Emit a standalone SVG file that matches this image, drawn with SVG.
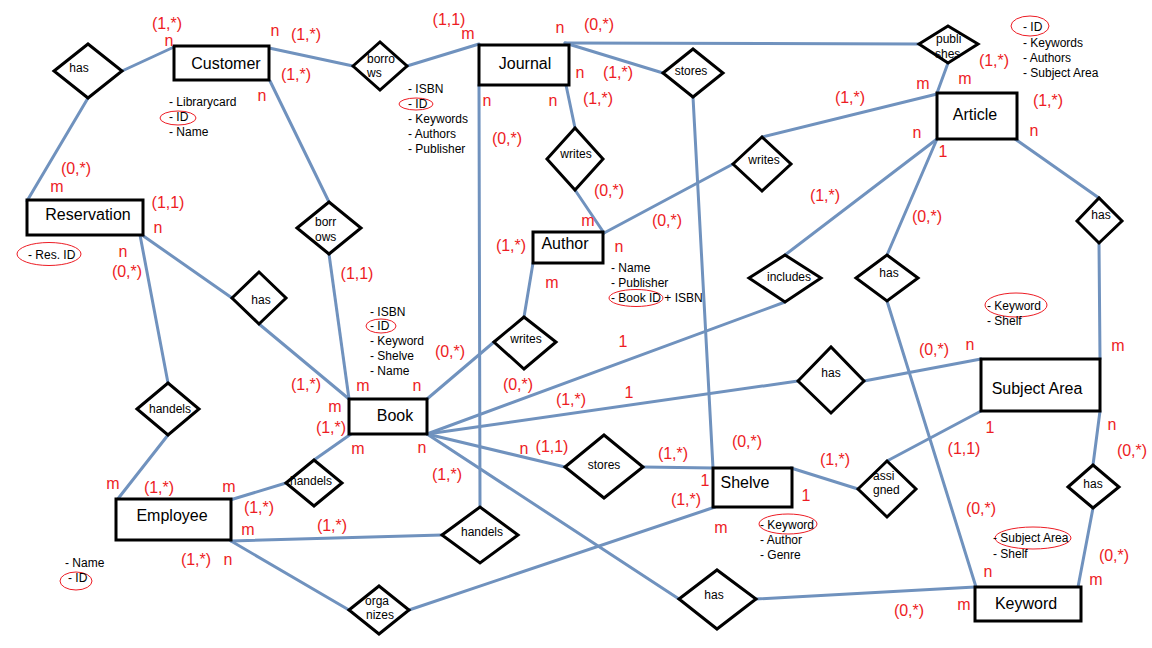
<svg xmlns="http://www.w3.org/2000/svg" width="1152" height="648" viewBox="0 0 1152 648">
<style>
  .bg { fill: #ffffff; }
  .conn line { stroke: #7092be; stroke-width: 3; stroke-linecap: round; fill: none; }
  .ent rect { fill: #ffffff; stroke: #000000; stroke-width: 3; }
  .rel polygon { fill: #ffffff; stroke: #000000; stroke-width: 3; stroke-linejoin: miter; }
  .et { font-family: "Liberation Sans", Arial, sans-serif; font-size: 16px; fill: #000000; text-anchor: middle; }
  .rt { font-family: "Liberation Sans", Arial, sans-serif; font-size: 12px; fill: #000000; text-anchor: middle; }
  .rs { font-family: "Liberation Sans", Arial, sans-serif; font-size: 12px; fill: #000000; }
  .at { font-family: "Liberation Sans", Arial, sans-serif; font-size: 12px; fill: #000000; }
  .key { fill: none; stroke: #ed1c24; stroke-width: 1; }
  .card { font-family: "Liberation Sans", Arial, sans-serif; font-size: 16px; fill: #ed1c24; text-anchor: middle; }
</style>
<rect class="bg" x="0" y="0" width="1152" height="648"/>

<!-- relationship lines -->
<g id="connectors" class="conn">
  <line x1="174" y1="47" x2="122" y2="71"/>
  <line x1="88" y1="98" x2="27" y2="201"/>
  <line x1="269" y1="48" x2="353" y2="66"/>
  <line x1="407" y1="66" x2="479" y2="44"/>
  <line x1="270" y1="81" x2="329" y2="202"/>
  <line x1="329" y1="254" x2="349" y2="399"/>
  <line x1="142" y1="235" x2="232" y2="298"/>
  <line x1="259" y1="324" x2="349" y2="399"/>
  <line x1="140" y1="235" x2="168" y2="383"/>
  <line x1="168" y1="435" x2="117" y2="500"/>
  <line x1="230" y1="500" x2="286" y2="483"/>
  <line x1="314" y1="460" x2="351" y2="434"/>
  <line x1="231" y1="541" x2="442" y2="535"/>
  <line x1="479" y1="85" x2="480" y2="507"/>
  <line x1="231" y1="541" x2="349" y2="610"/>
  <line x1="409" y1="610" x2="715" y2="507"/>
  <line x1="565" y1="43" x2="919" y2="44"/>
  <line x1="565" y1="43" x2="663" y2="73"/>
  <line x1="693" y1="97" x2="713" y2="468"/>
  <line x1="566" y1="85" x2="575" y2="128"/>
  <line x1="575" y1="190" x2="604" y2="233"/>
  <line x1="604" y1="233" x2="733" y2="164"/>
  <line x1="762" y1="137" x2="937" y2="94"/>
  <line x1="948" y1="63" x2="937" y2="93"/>
  <line x1="937" y1="139" x2="785" y2="255"/>
  <line x1="937" y1="139" x2="887" y2="255"/>
  <line x1="1015" y1="139" x2="1099" y2="198"/>
  <line x1="1099" y1="243" x2="1100" y2="359"/>
  <line x1="1100" y1="411" x2="1093" y2="465"/>
  <line x1="1093" y1="508" x2="1078" y2="587"/>
  <line x1="981" y1="411" x2="887" y2="461"/>
  <line x1="791" y1="468" x2="858" y2="489"/>
  <line x1="427" y1="434" x2="785" y2="302"/>
  <line x1="427" y1="434" x2="798" y2="381"/>
  <line x1="427" y1="434" x2="565" y2="467"/>
  <line x1="427" y1="434" x2="679" y2="599"/>
  <line x1="427" y1="399" x2="494" y2="342"/>
  <line x1="524" y1="317" x2="533" y2="263"/>
  <line x1="643" y1="467" x2="713" y2="468"/>
  <line x1="756" y1="599" x2="975" y2="587"/>
  <line x1="887" y1="301" x2="976" y2="587"/>
  <line x1="864" y1="381" x2="981" y2="359"/>
</g>

<!-- entities -->
<g id="customer" class="ent">
  <rect x="174" y="46" width="95" height="34"/>
  <text class="et" x="226" y="69">Customer</text>
</g>
<g id="journal" class="ent">
  <rect x="479" y="45" width="90" height="40"/>
  <text class="et" x="525" y="69">Journal</text>
</g>
<g id="article" class="ent">
  <rect x="937" y="93" width="80" height="46"/>
  <text class="et" x="975" y="120">Article</text>
</g>
<g id="reservation" class="ent">
  <rect x="27" y="200" width="116" height="35"/>
  <text class="et" x="88" y="220">Reservation</text>
</g>
<g id="author" class="ent">
  <rect x="533" y="232" width="70" height="31"/>
  <text class="et" x="565" y="249">Author</text>
</g>
<g id="book" class="ent">
  <rect x="349" y="399" width="78" height="35"/>
  <text class="et" x="395" y="421">Book</text>
</g>
<g id="subject-area" class="ent">
  <rect x="981" y="359" width="119" height="52"/>
  <text class="et" x="1037" y="394">Subject Area</text>
</g>
<g id="shelve" class="ent">
  <rect x="713" y="468" width="79" height="39"/>
  <text class="et" x="745" y="488">Shelve</text>
</g>
<g id="employee" class="ent">
  <rect x="116" y="499" width="115" height="41"/>
  <text class="et" x="172" y="521">Employee</text>
</g>
<g id="keyword" class="ent">
  <rect x="975" y="587" width="106" height="34"/>
  <text class="et" x="1026" y="609">Keyword</text>
</g>

<!-- relationships -->
<g id="rel-customer-has" class="rel">
  <polygon points="54,71 88,44 122,71 88,98"/>
  <text class="rt" x="79" y="72">has</text>
</g>
<g id="rel-borrows-journal" class="rel">
  <polygon points="353,66 380,42 407,66 380,90"/>
  <text class="rs" x="367" y="63">borro</text>
  <text class="rs" x="367" y="77">ws</text>
</g>
<g id="rel-borrows-book" class="rel">
  <polygon points="297,228 329,202 361,228 329,254"/>
  <text class="rs" x="315" y="226">borr</text>
  <text class="rs" x="315" y="241">ows</text>
</g>
<g id="rel-reservation-has" class="rel">
  <polygon points="232,298 259,272 286,298 259,324"/>
  <text class="rt" x="261" y="304">has</text>
</g>
<g id="rel-handels-reservation" class="rel">
  <polygon points="137,409 168,383 199,409 168,435"/>
  <text class="rt" x="170" y="413">handels</text>
</g>
<g id="rel-handels-book" class="rel">
  <polygon points="286,483 314,460 342,483 314,506"/>
  <text class="rt" x="311" y="485">handels</text>
</g>
<g id="rel-handels-journal" class="rel">
  <polygon points="442,535 480,507 518,535 480,563"/>
  <text class="rt" x="482" y="536">handels</text>
</g>
<g id="rel-organizes" class="rel">
  <polygon points="349,610 379,586 409,610 379,634"/>
  <text class="rs" x="365" y="605">orga</text>
  <text class="rs" x="366" y="619">nizes</text>
</g>
<g id="rel-writes-journal" class="rel">
  <polygon points="547,159 575,128 603,159 575,190"/>
  <text class="rt" x="576" y="158">writes</text>
</g>
<g id="rel-stores-journal" class="rel">
  <polygon points="663,73 693,49 723,73 693,97"/>
  <text class="rt" x="691" y="75">stores</text>
</g>
<g id="rel-publishes" class="rel">
  <polygon points="919,44 948,26 978,44 948,63"/>
  <text class="rs" x="936" y="43">publi</text>
  <text class="rs" x="935" y="58">shes</text>
</g>
<g id="rel-writes-article" class="rel">
  <polygon points="733,164 762,137 791,164 762,191"/>
  <text class="rt" x="764" y="164">writes</text>
</g>
<g id="rel-includes" class="rel">
  <polygon points="749,278 785,255 821,278 785,302"/>
  <text class="rt" x="789" y="281">includes</text>
</g>
<g id="rel-article-has-keyword" class="rel">
  <polygon points="856,278 887,255 918,278 887,301"/>
  <text class="rt" x="889" y="277">has</text>
</g>
<g id="rel-article-has-subject" class="rel">
  <polygon points="1077,221 1099,198 1122,221 1099,243"/>
  <text class="rt" x="1101" y="219">has</text>
</g>
<g id="rel-book-has-subject" class="rel">
  <polygon points="798,381 831,347 864,381 831,413"/>
  <text class="rt" x="831" y="377">has</text>
</g>
<g id="rel-writes-book" class="rel">
  <polygon points="494,342 524,317 556,342 524,369"/>
  <text class="rt" x="526" y="343">writes</text>
</g>
<g id="rel-stores-book" class="rel">
  <polygon points="565,467 604,435 643,467 604,498"/>
  <text class="rt" x="604" y="469">stores</text>
</g>
<g id="rel-assigned" class="rel">
  <polygon points="858,489 887,461 916,489 887,517"/>
  <text class="rs" x="873" y="480">assi</text>
  <text class="rs" x="873" y="494">gned</text>
</g>
<g id="rel-book-has-keyword" class="rel">
  <polygon points="679,599 717,570 756,599 717,629"/>
  <text class="rt" x="714" y="599">has</text>
</g>
<g id="rel-subject-has-keyword" class="rel">
  <polygon points="1068,487 1093,465 1119,487 1093,508"/>
  <text class="rt" x="1093" y="488">has</text>
</g>

<!-- attribute lists -->
<g id="attr-customer">
  <ellipse class="key" cx="178" cy="118" rx="18" ry="7"/>
  <text class="at" x="169" y="106">- Librarycard</text>
  <text class="at" x="169" y="121">- ID</text>
  <text class="at" x="169" y="136">- Name</text>
</g>
<g id="attr-journal">
  <ellipse class="key" cx="416" cy="104" rx="17" ry="6"/>
  <text class="at" x="408" y="93">- ISBN</text>
  <text class="at" x="408" y="108">- ID</text>
  <text class="at" x="408" y="123">- Keywords</text>
  <text class="at" x="408" y="138">- Authors</text>
  <text class="at" x="408" y="153">- Publisher</text>
</g>
<g id="attr-article">
  <ellipse class="key" cx="1030" cy="26" rx="19" ry="10"/>
  <text class="at" x="1023" y="31">- ID</text>
  <text class="at" x="1023" y="47">- Keywords</text>
  <text class="at" x="1023" y="62">- Authors</text>
  <text class="at" x="1023" y="77">- Subject Area</text>
</g>
<g id="attr-reservation">
  <ellipse class="key" cx="49" cy="254" rx="32" ry="11.5"/>
  <text class="at" x="28" y="259">- Res. ID</text>
</g>
<g id="attr-author">
  <ellipse class="key" cx="636" cy="298" rx="27" ry="8.5"/>
  <text class="at" x="611" y="272">- Name</text>
  <text class="at" x="611" y="287">- Publisher</text>
  <text class="at" x="611" y="302">- Book ID + ISBN</text>
</g>
<g id="attr-book">
  <ellipse class="key" cx="381" cy="326" rx="15" ry="7"/>
  <text class="at" x="370" y="316">- ISBN</text>
  <text class="at" x="370" y="330">- ID</text>
  <text class="at" x="370" y="345">- Keyword</text>
  <text class="at" x="370" y="360">- Shelve</text>
  <text class="at" x="370" y="375">- Name</text>
</g>
<g id="attr-subject-area">
  <ellipse class="key" cx="1016" cy="305" rx="31" ry="12"/>
  <text class="at" x="987" y="310">- Keyword</text>
  <text class="at" x="987" y="325">- Shelf</text>
</g>
<g id="attr-employee">
  <ellipse class="key" cx="76" cy="581" rx="16" ry="9"/>
  <text class="at" x="65" y="567">- Name</text>
  <text class="at" x="68" y="582">- ID</text>
</g>
<g id="attr-shelve">
  <ellipse class="key" cx="788" cy="524" rx="29" ry="10"/>
  <text class="at" x="760" y="529">- Keyword</text>
  <text class="at" x="760" y="544">- Author</text>
  <text class="at" x="760" y="559">- Genre</text>
</g>
<g id="attr-keyword">
  <ellipse class="key" cx="1033" cy="538" rx="38" ry="11"/>
  <text class="at" x="993" y="542">- Subject Area</text>
  <text class="at" x="993" y="558">- Shelf</text>
</g>

<!-- cardinalities -->
<g id="cardinalities" class="card">
  <text x="167" y="29">(1,*)</text>
  <text x="169" y="46">n</text>
  <text x="275" y="36">n</text>
  <text x="306" y="40">(1,*)</text>
  <text x="296" y="80">(1,*)</text>
  <text x="262" y="101">n</text>
  <text x="76" y="174">(0,*)</text>
  <text x="57" y="192">m</text>
  <text x="168" y="208">(1,1)</text>

  <text x="449" y="25">(1,1)</text>
  <text x="468" y="39">m</text>
  <text x="560" y="33">n</text>
  <text x="599" y="30">(0,*)</text>
  <text x="580" y="78">n</text>
  <text x="618" y="78">(1,*)</text>
  <text x="487" y="106">n</text>
  <text x="553" y="106">n</text>
  <text x="598" y="104">(1,*)</text>
  <text x="507" y="144">(0,*)</text>
  <text x="609" y="196">(0,*)</text>

  <text x="994" y="66">(1,*)</text>
  <text x="923" y="89">m</text>
  <text x="965" y="84">m</text>
  <text x="850" y="103">(1,*)</text>
  <text x="1048" y="106">(1,*)</text>
  <text x="917" y="138">n</text>
  <text x="1034" y="136">n</text>
  <text x="943" y="157">1</text>
  <text x="825" y="201">(1,*)</text>
  <text x="927" y="222">(0,*)</text>

  <text x="158" y="233">n</text>
  <text x="123" y="257">n</text>
  <text x="127" y="277">(0,*)</text>
  <text x="357" y="279">(1,1)</text>
  <text x="306" y="390">(1,*)</text>
  <text x="363" y="391">m</text>
  <text x="335" y="412">m</text>

  <text x="588" y="226">m</text>
  <text x="667" y="226">(0,*)</text>
  <text x="511" y="251">(1,*)</text>
  <text x="619" y="252">n</text>
  <text x="552" y="288">m</text>
  <text x="623" y="347">1</text>
  <text x="450" y="357">(0,*)</text>
  <text x="417" y="391">n</text>
  <text x="518" y="390">(0,*)</text>
  <text x="629" y="398">1</text>
  <text x="571" y="405">(1,*)</text>

  <text x="970" y="350">n</text>
  <text x="934" y="355">(0,*)</text>
  <text x="1118" y="351">m</text>

  <text x="331" y="433">(1,*)</text>
  <text x="358" y="454">m</text>
  <text x="113" y="489">m</text>
  <text x="159" y="493">(1,*)</text>
  <text x="229" y="492">m</text>
  <text x="259" y="513">(1,*)</text>
  <text x="248" y="535">m</text>
  <text x="332" y="531">(1,*)</text>
  <text x="196" y="565">(1,*)</text>
  <text x="228" y="565">n</text>

  <text x="422" y="453">n</text>
  <text x="524" y="454">n</text>
  <text x="552" y="452">(1,1)</text>
  <text x="447" y="480">(1,*)</text>
  <text x="673" y="459">(1,*)</text>
  <text x="747" y="447">(0,*)</text>
  <text x="705" y="486">1</text>
  <text x="686" y="505">(1,*)</text>
  <text x="721" y="533">m</text>

  <text x="990" y="433">1</text>
  <text x="1112" y="430">n</text>
  <text x="964" y="454">(1,1)</text>
  <text x="1132" y="456">(0,*)</text>
  <text x="835" y="465">(1,*)</text>
  <text x="806" y="501">1</text>
  <text x="981" y="514">(0,*)</text>
  <text x="1114" y="561">(0,*)</text>
  <text x="988" y="577">n</text>
  <text x="1096" y="585">m</text>
  <text x="964" y="610">m</text>
  <text x="909" y="616">(0,*)</text>
</g>
</svg>
